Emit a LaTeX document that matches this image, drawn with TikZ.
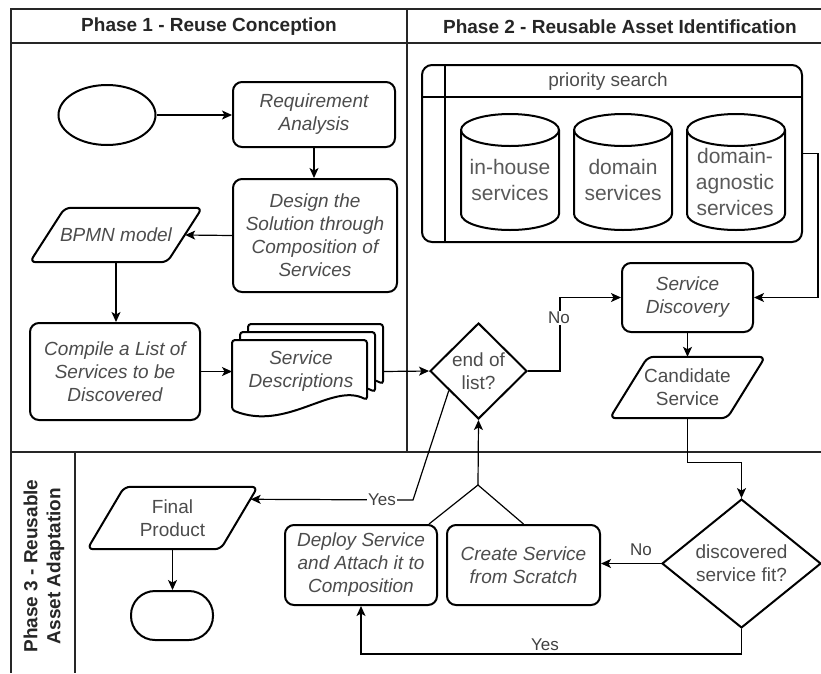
\documentclass[tikz,border=0pt]{standalone}
\usepackage{fontspec}
\setmainfont{Liberation Sans}
\usetikzlibrary{shapes.geometric,arrows.meta,calc}
\newcommand\cylshape[3]{%
  \filldraw[fill=white,line width=2pt] (#1,#2+16) -- (#1,#3-16)
    arc[start angle=180,end angle=360,x radius=49pt,y radius=16pt] -- (#1+98,#2+16)
    arc[start angle=0,end angle=180,x radius=49pt,y radius=16pt] -- cycle;
  \draw[line width=2pt] (#1,#2+16) arc[start angle=180,end angle=360,x radius=49pt,y radius=16pt];}
\newcommand\docshape[2]{(#1,#2) -- (#1+135,#2) -- (#1+135,#2+60) .. controls (#1+100,#2+42) and (#1+55,#2+92) .. (#1,#2+70) -- cycle}
\newcommand\slantbox[2]{\draw[line width=2pt,rounded corners=6pt] (#1.south west) -- ($(#1.north west)+(#2,0)$) -- (#1.north east) -- ($(#1.south east)+(-#2,0)$) -- cycle;}
\begin{document}
\begin{tikzpicture}[x=1pt,y=-1pt,
  lane/.style={draw=black!85,line width=1.2pt},
  box/.style={draw=black,line width=2pt,fill=white,rounded corners=9pt,inner sep=0pt,align=center,text=black!70,font=\fontsize{19}{23}\selectfont\itshape},
  txt/.style={inner sep=0pt,align=center,text=black!70,font=\fontsize{19}{23}\selectfont},
  itxt/.style={inner sep=0pt,align=center,text=black!70,font=\fontsize{19}{23}\selectfont\itshape},
  cyltxt/.style={inner sep=0pt,align=center,text=black!65,font=\fontsize{21}{26}\selectfont},
  hdr/.style={inner sep=0pt,align=center,text=black!85,font=\fontsize{19}{23}\selectfont\bfseries},
  parbox/.style={rectangle,inner sep=0pt,align=center,text=black!70,font=\fontsize{19}{23}\selectfont},
  dia/.style={draw=black,line width=2pt,fill=white,diamond,inner sep=0pt,align=center,text=black!70,font=\fontsize{19}{23}\selectfont},
  arr/.style={draw=black,line width=1.2pt,-{Stealth[length=10pt,width=9pt,inset=2.5pt]}},
  con/.style={draw=black,line width=1.2pt},
  lbl/.style={fill=white,inner sep=1pt,text=black!75,font=\fontsize{17}{20}\selectfont}
]
\useasboundingbox (0,0) rectangle (821,673);
% lanes
\draw[lane] (821,9) -- (11,9) -- (11,673);
\draw[lane] (11,43) -- (821,43);
\draw[lane] (407,9) -- (407,452);
\draw[lane] (11,452) -- (821,452);
\draw[lane] (75,452) -- (75,673);
\node[hdr] (h1) at (209,27) {Phase 1 - Reuse Conception};
\node[hdr] (h2) at (620,27) {Phase 2 - Reusable Asset Identification};
\node[hdr,rotate=90] (h3) at (44,566) {Phase 3 - Reusable\\Asset Adaptation};

% phase 1
\node[ellipse,draw=black,line width=2pt,minimum width=97pt,minimum height=60pt,inner sep=0pt] (start) at (107,115) {};
\node[box,minimum width=162pt,minimum height=65pt] (ra) at (314,114.5) {Requirement\\Analysis};
\node[box,minimum width=164pt,minimum height=113pt] (ds) at (315,235.5) {Design the\\Solution through\\Composition of\\Services};
\node[parbox,minimum width=172pt,minimum height=54pt,font=\fontsize{19}{23}\selectfont\itshape] (bp) at (116,235) {BPMN model};
\slantbox{bp}{35}
\node[box,minimum width=170pt,minimum height=97pt] (cl) at (115,371.5) {Compile a List of\\Services to be\\Discovered};
\filldraw[fill=white,line width=2pt,rounded corners=3pt] \docshape{248}{324};
\filldraw[fill=white,line width=2pt,rounded corners=3pt] \docshape{240}{332};
\filldraw[fill=white,line width=2pt,rounded corners=3pt] \docshape{232}{340};
\node[itxt] (sd) at (301,371) {Service\\Descriptions};
\coordinate (sdl) at (232,371.5);
\coordinate (sdr) at (383,371.5);

% phase 2
\node[dia,minimum width=97pt,minimum height=96pt] (eol) at (478.5,371) {end of\\list?};
\node[draw=black,line width=2pt,rounded corners=10pt,minimum width=380pt,minimum height=177pt,inner sep=0pt] (ps) at (612,153.5) {};
\draw[line width=2pt] ($(ps.north west)+(24,0)$) -- ($(ps.south west)+(24,0)$);
\draw[line width=2pt] ($(ps.north west)+(0,33)$) -- ($(ps.north east)+(0,33)$);
\node[txt] (pst) at (608,82) {priority search};
\cylshape{461}{114}{230}
\cylshape{574}{114}{230}
\cylshape{687}{114}{230}
\node[cyltxt] (c1) at (510,180) {in-house\\services};
\node[cyltxt] (c2) at (623,180) {domain\\services};
\node[cyltxt] (c3) at (735,182) {domain-\\agnostic\\services};
\node[box,minimum width=131pt,minimum height=69pt] (sdisc) at (687.5,297.5) {Service\\Discovery};
\node[parbox,minimum width=155pt,minimum height=61pt] (cs) at (687.5,387.5) {Candidate\\Service};
\slantbox{cs}{38}

% phase 3
\node[dia,minimum width=159pt,minimum height=113pt] (dsf) at (741.5,563.5) {discovered\\service fit?};
\node[box,minimum width=153pt,minimum height=80pt] (cr) at (523.5,565) {Create Service\\from Scratch};
\node[box,minimum width=152pt,minimum height=80pt] (dp) at (361,565) {Deploy Service\\and Attach it to\\Composition};
\node[parbox,minimum width=170pt,minimum height=62pt] (fp) at (172.5,518) {Final\\Product};
\slantbox{fp}{37}
\node[draw=black,line width=2pt,rounded corners=24pt,minimum width=82pt,minimum height=49pt,inner sep=0pt] (end) at (172,615.5) {};
\coordinate (apex) at (478,485);
\coordinate (yb) at (413,500);

% connectors
\draw[arr] (start.east) -- (start.east -| ra.west);
\draw[arr] (ra.south) -- (ra.south |- ds.north);
\draw[arr] (ds.west) -- ($(bp.east)+(-17,0)$);
\draw[arr] (bp.south) -- (bp.south |- cl.north);
\draw[arr] (cl.east) -- (sdl);
\draw[arr] (sdr) -- (eol.west);
\draw[arr] (eol.east) -- ++(32,0) |- (sdisc.west);
\node[lbl] (no1) at (559,318) {No};
\draw[arr] (ps.east) -- ++(15,0) |- (sdisc.east);
\draw[arr] (sdisc.south) -- (sdisc.south |- cs.north);
\draw[arr] (cs.south) -- ++(0,44) -| (dsf.north);
\draw[arr] (dsf.west) -- (dsf.west -| cr.east);
\node[lbl] (no2) at (641,550) {No};
\draw[arr] (dsf.south) -- ++(0,25) -| (dp.south);
\node[lbl] (yes2) at (545,645) {Yes};
\draw[con] ($(dp.north east)+(-9,0)$) -- (apex) -- (cr.north);
\draw[arr] (apex) -- (eol.south);
\draw[arr] ($(eol.west)!0.4!(eol.south)$) -- (yb) -- ($(fp.north east)!0.2!(fp.south east)+(-7,0)$);
\node[lbl] (yes1) at (382,500) {Yes};
\draw[arr] (fp.south) -- (fp.south |- end.north);
\end{tikzpicture}
\end{document}
